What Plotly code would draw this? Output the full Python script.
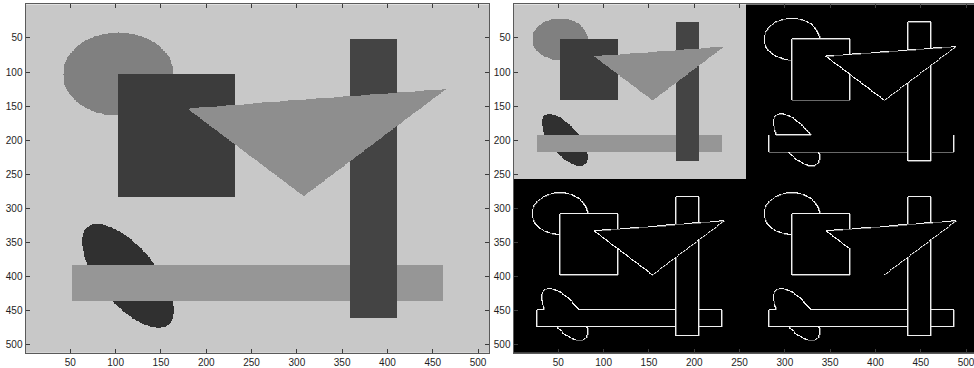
import numpy as np
import plotly.graph_objects as go

# ---- scene description (pixel coordinates of a 512 x 512 grayscale picture) ----
# layers are painted bottom to top; index 0 is the background
layer_names = ["background", "disk", "square", "ellipse", "hbar", "vbar", "triangle"]
layer_gray = [200, 128, 60, 48, 150, 68, 142]

disk_center = (103.0, 103.0)
disk_radius = 61.0
square_box = (103.0, 231.0, 103.0, 282.0)          # x0, x1, y0, y1
ellipse_center = (113.5, 399.0)
ellipse_axes = (85.0, 34.0)                          # semi-major, semi-minor
ellipse_angle_deg = 61.0
hbar_box = (52.0, 461.0, 384.0, 435.0)
vbar_box = (359.0, 410.0, 52.0, 460.0)
triangle_x = [178.6, 465.0, 307.4]
triangle_y = [153.3, 124.5, 281.7]

# boundaries left out of each edge map: (label on top/left, label on bottom/right, neighbour axis)
edge_skip_tr = [("background", "hbar", "v")]
edge_skip_bl = [("ellipse", "hbar", "v")]
edge_skip_br = [("ellipse", "hbar", "v"), ("triangle", "background", "v"),
                ("background", "triangle", "h")]

tick_values = [50, 100, 150, 200, 250, 300, 350, 400, 450, 500]
EDGE_MAIN = 240     # pixel on the top/left side of a boundary
EDGE_SIDE = 105     # pixel on the bottom/right side
SIZE = 512


def label_map(xs, ys):
    """Topmost layer index at each sample point."""
    X, Y = np.meshgrid(xs, ys)
    lab = np.zeros(X.shape, dtype=int)

    def rect(b):
        return (X >= b[0]) & (X <= b[1]) & (Y >= b[2]) & (Y <= b[3])

    disk = (X - disk_center[0]) ** 2 + (Y - disk_center[1]) ** 2 <= disk_radius ** 2
    t = np.deg2rad(ellipse_angle_deg)
    u = (X - ellipse_center[0]) * np.cos(t) + (Y - ellipse_center[1]) * np.sin(t)
    v = -(X - ellipse_center[0]) * np.sin(t) + (Y - ellipse_center[1]) * np.cos(t)
    ell = (u / ellipse_axes[0]) ** 2 + (v / ellipse_axes[1]) ** 2 <= 1.0

    def side(i, j):
        return ((triangle_x[j] - triangle_x[i]) * (Y - triangle_y[i])
                - (triangle_y[j] - triangle_y[i]) * (X - triangle_x[i]))
    s1, s2, s3 = side(0, 1), side(1, 2), side(2, 0)
    tri = ((s1 >= 0) & (s2 >= 0) & (s3 >= 0)) | ((s1 <= 0) & (s2 <= 0) & (s3 <= 0))

    masks = [disk, rect(square_box), ell, rect(hbar_box), rect(vbar_box), tri]
    for k, m in enumerate(masks, start=1):
        lab[m] = k
    return lab


def edge_map(lab, skip):
    idx = {n: i for i, n in enumerate(layer_names)}
    main = np.zeros(lab.shape, dtype=bool)
    sec = np.zeros(lab.shape, dtype=bool)
    a, b = lab[:-1, :], lab[1:, :]
    d = a != b
    for p, q, ax in skip:
        if ax == "v":
            d &= ~((a == idx[p]) & (b == idx[q]))
    main[:-1, :] |= d
    sec[1:, :] |= d
    a, b = lab[:, :-1], lab[:, 1:]
    d = a != b
    for p, q, ax in skip:
        if ax == "h":
            d &= ~((a == idx[p]) & (b == idx[q]))
    main[:, :-1] |= d
    sec[:, 1:] |= d
    out = np.zeros(lab.shape)
    out[sec] = EDGE_SIDE
    out[main] = EDGE_MAIN
    return out


gray = np.array(layer_gray)

# full resolution picture
full_coords = np.arange(1, SIZE + 1, dtype=float)
full_img = gray[label_map(full_coords, full_coords)]

# half resolution picture and its edge maps, tiled 2 x 2
half_coords = np.arange(SIZE // 2) * 2 + 1.5
half_lab = label_map(half_coords, half_coords)
half = SIZE // 2
tiled = np.zeros((SIZE, SIZE))
tiled[:half, :half] = gray[half_lab]
tiled[:half, half:] = edge_map(half_lab, edge_skip_tr)
tiled[half:, :half] = edge_map(half_lab, edge_skip_bl)
tiled[half:, half:] = edge_map(half_lab, edge_skip_br)

gray_scale = [[0, "rgb(0,0,0)"], [1, "rgb(255,255,255)"]]
fig = go.Figure()
for z, xa, ya in [(full_img, "x", "y"), (tiled, "x2", "y2")]:
    fig.add_trace(go.Heatmap(
        z=z.astype(int).tolist(), x0=1, dx=1, y0=1, dy=1,
        colorscale=gray_scale, zmin=0, zmax=255, showscale=False,
        zsmooth=False, hoverinfo="skip", xaxis=xa, yaxis=ya))

W, H = 974, 368
px_per_unit = 0.906
left0 = 25.5
right0 = 513.5
y_top, y_bot = 4.3, 352.8
ydom = [(H - y_bot) / H, (H - y_top) / H]

axis_style = dict(
    tickvals=tick_values, ticks="inside", ticklen=4, tickwidth=1,
    tickcolor="#3c3c3c", showline=True, linecolor="#5a5a5a", linewidth=1,
    showgrid=False, zeroline=False,
    tickfont=dict(family="Liberation Sans, Arial, sans-serif", size=10, color="#1e1e1e"),
)

fig.update_layout(
    width=W, height=H, margin=dict(l=0, r=0, t=0, b=0),
    paper_bgcolor="white", plot_bgcolor="white", showlegend=False,
    xaxis=dict(domain=[left0 / W, (left0 + 512 * px_per_unit) / W],
               range=[0.5, 512.5], mirror="ticks", anchor="y", **axis_style),
    yaxis=dict(domain=ydom, range=[512.5, 0.5], mirror="ticks", anchor="x", **axis_style),
    xaxis2=dict(domain=[right0 / W, 1.0],
                range=[0.5, 0.5 + (W - right0) / px_per_unit], mirror="ticks",
                anchor="y2", ticklabeloverflow="allow", **axis_style),
    yaxis2=dict(domain=ydom, range=[512.5, 0.5], mirror=False, anchor="x2", **axis_style),
)

fig.write_html("out.html")
